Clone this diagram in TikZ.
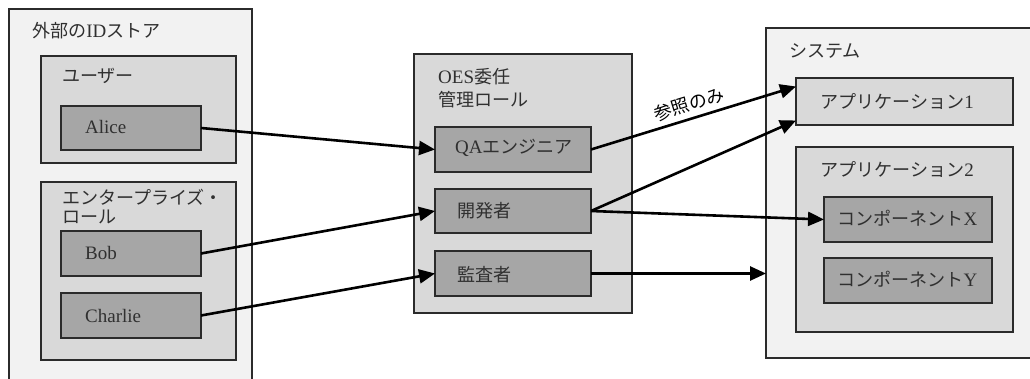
\documentclass[tikz,border=0pt]{standalone}
\usepackage{fontspec}
\setmainfont{Liberation Serif}
\newfontfamily\jp[Scale=0.95]{Noto Sans CJK JP}
\newfontfamily\jpsans{Noto Sans CJK JP}
\usetikzlibrary{arrows.meta}
\definecolor{shadeA}{HTML}{F2F2F2}
\definecolor{shadeB}{HTML}{D9D9D9}
\definecolor{shadeC}{HTML}{A6A6A6}
\definecolor{edge}{HTML}{2B2B2B}
\definecolor{ink}{HTML}{303030}

\begin{document}
\begin{tikzpicture}[x=1pt,y=-1pt,
  frame/.style={draw=edge, line width=1.9pt, anchor=north west, inner sep=0pt, outer sep=0pt},
  groupA/.style={frame, fill=shadeA},
  groupB/.style={frame, fill=shadeB},
  itembox/.style={frame, fill=shadeC},
  caption/.style={anchor=base west, inner sep=0pt, text=ink, font=\fontsize{19}{23}\selectfont},
  link/.style={draw=black, line width=2.6pt, -{Triangle[length=16pt,width=14pt]}},
]
\useasboundingbox (0,0) rectangle (1030,379);
\fill[white] (0,0) rectangle (1030,379);
\clip (0,0) rectangle (1030,379);

% external identity store
\node[groupA, minimum width=243pt, minimum height=400pt] (store) at (9,9) {};
\node[groupB, minimum width=195pt, minimum height=107pt] (users) at (41,56) {};
\node[itembox, minimum width=140pt, minimum height=44pt] (alice) at (61,106) {};
\node[groupB, minimum width=195pt, minimum height=178pt] (ent) at (41,182) {};
\node[itembox, minimum width=140pt, minimum height=45pt] (bob) at (61,231) {};
\node[itembox, minimum width=140pt, minimum height=45pt] (charlie) at (61,293) {};

\node[caption] (storeT) at (32,38) {{\jp 外部の}ID{\jp ストア}};
\node[caption] (usersT) at (62,83) {\jp ユーザー};
\node[caption] (aliceT) at (85,134) {Alice};
\node[caption] (entT1) at (62,205) {\jp エンタープライズ・};
\node[caption] (entT2) at (62,224) {\jp ロール};
\node[caption] (bobT) at (85,260) {Bob};
\node[caption] (charlieT) at (85,322) {Charlie};

% delegated administration roles
\node[groupB, minimum width=218pt, minimum height=259pt] (oes) at (414,54) {};
\node[itembox, minimum width=156pt, minimum height=45pt] (qa) at (435,127) {};
\node[itembox, minimum width=156pt, minimum height=44pt] (dev) at (435,189) {};
\node[itembox, minimum width=156pt, minimum height=45pt] (aud) at (435,251) {};

\node[caption] (oesT1) at (438,84) {OES{\jp 委任}};
\node[caption] (oesT2) at (438,107) {\jp 管理ロール};
\node[caption] (qaT) at (455,154) {QA{\jp エンジニア}};
\node[caption] (devT) at (457,218) {\jp 開発者};
\node[caption] (audT) at (457,281) {\jp 監査者};

% target system
\node[groupA, minimum width=300pt, minimum height=330pt] (sys) at (766,28) {};
\node[groupB, minimum width=217pt, minimum height=47pt] (app1) at (796,78) {};
\node[groupB, minimum width=217pt, minimum height=185pt] (app2) at (796,147) {};
\node[itembox, minimum width=168pt, minimum height=45pt] (compx) at (824,197) {};
\node[itembox, minimum width=168pt, minimum height=45pt] (compy) at (824,258) {};

\node[caption] (sysT) at (789,58) {\jp システム};
\node[caption] (app1T) at (820,109) {{\jp アプリケーション}1};
\node[caption] (app2T) at (820,177) {{\jp アプリケーション}2};
\node[caption] (compxT) at (837,226) {{\jp コンポーネント}X};
\node[caption] (compyT) at (837,286) {{\jp コンポーネント}Y};

% role assignments
\draw[link] (alice.east) -- (qa.west);
\draw[link] (bob.east) -- (dev.west);
\draw[link] (charlie.east) -- (aud.west);
\draw[link] (qa.east) -- node[sloped, above=5pt, inner sep=0pt, text=black,
    font=\fontsize{18}{22}\selectfont\jpsans] (refonly) {参照のみ} ([yshift=15pt]app1.west);
\draw[link] (dev.east) -- ([yshift=-19pt]app1.west);
\draw[link] (dev.east) -- (compx.west);
\draw[link] (aud.east) -- (aud.east -| sys.west);
\end{tikzpicture}
\end{document}
